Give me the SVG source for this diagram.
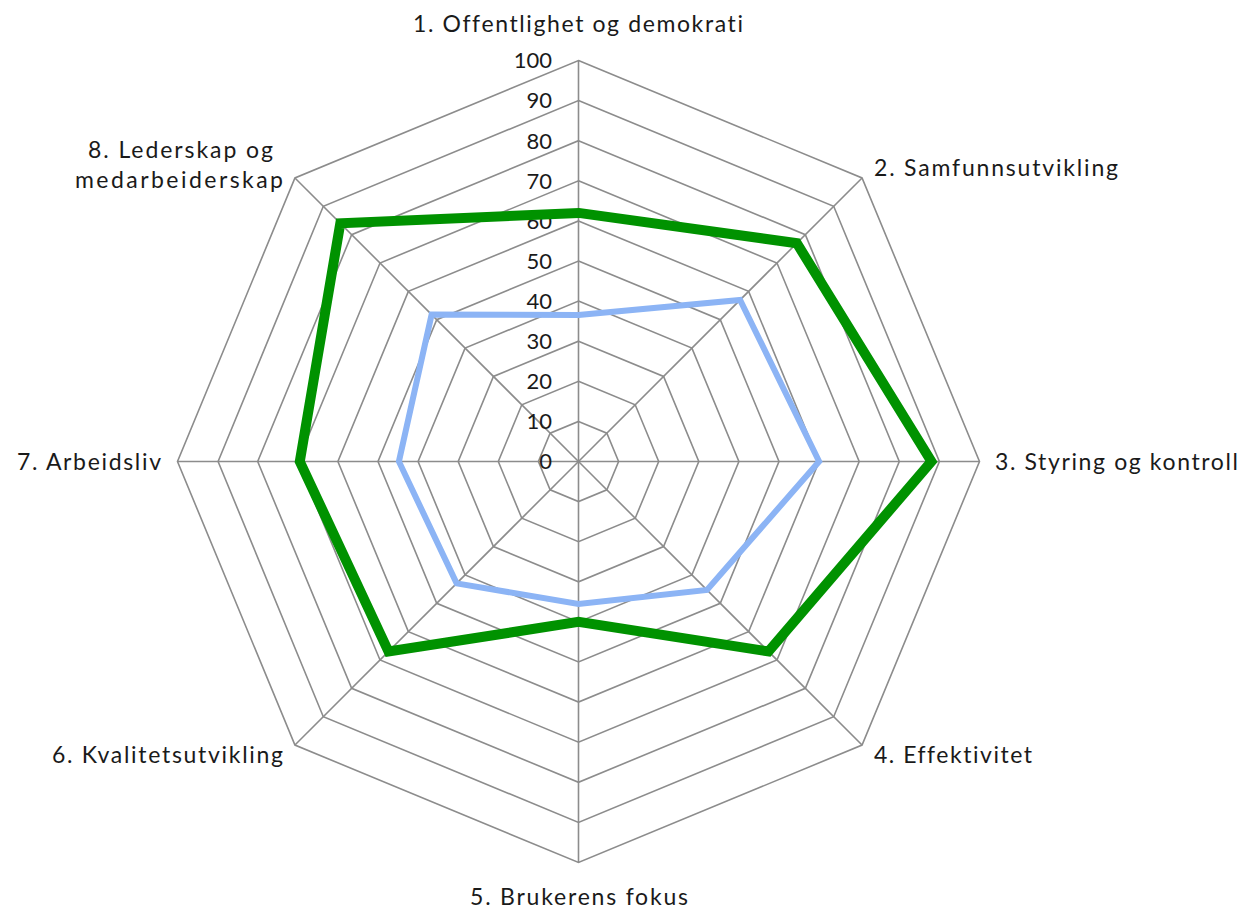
<svg xmlns="http://www.w3.org/2000/svg" width="1245" height="912" viewBox="0 0 1245 912">
<style>
.grid{fill:none;stroke:#8c8c8c;stroke-width:1.6}
.spoke{stroke:#8c8c8c;stroke-width:1.6}
.tick{font-family:Lato,"Liberation Sans",sans-serif;font-size:22px;fill:#1a1a1a;text-anchor:end}
.lab{font-family:Lato,"Liberation Sans",sans-serif;font-size:23px;fill:#1a1a1a;font-variant-ligatures:none;font-feature-settings:"liga" 0,"dlig" 0}
.green{fill:none;stroke:#009200;stroke-width:10;stroke-linejoin:miter}
.blue{fill:none;stroke:#8cb4f5;stroke-width:6;stroke-linejoin:miter}
</style>
<rect width="1245" height="912" fill="#ffffff"/>
<g id="grid">
<polygon class="grid" points="578.5,421.4 606.86,433.14 618.6,461.5 606.86,489.86 578.5,501.6 550.14,489.86 538.4,461.5 550.14,433.14"/>
<polygon class="grid" points="578.5,381.3 635.21,404.79 658.7,461.5 635.21,518.21 578.5,541.7 521.79,518.21 498.3,461.5 521.79,404.79"/>
<polygon class="grid" points="578.5,341.2 663.57,376.43 698.8,461.5 663.57,546.57 578.5,581.8 493.43,546.57 458.2,461.5 493.43,376.43"/>
<polygon class="grid" points="578.5,301.1 691.92,348.08 738.9,461.5 691.92,574.92 578.5,621.9 465.08,574.92 418.1,461.5 465.08,348.08"/>
<polygon class="grid" points="578.5,261 720.28,319.72 779,461.5 720.28,603.28 578.5,662 436.72,603.28 378,461.5 436.72,319.72"/>
<polygon class="grid" points="578.5,220.9 748.63,291.37 819.1,461.5 748.63,631.63 578.5,702.1 408.37,631.63 337.9,461.5 408.37,291.37"/>
<polygon class="grid" points="578.5,180.8 776.99,263.01 859.2,461.5 776.99,659.99 578.5,742.2 380.01,659.99 297.8,461.5 380.01,263.01"/>
<polygon class="grid" points="578.5,140.7 805.34,234.66 899.3,461.5 805.34,688.34 578.5,782.3 351.66,688.34 257.7,461.5 351.66,234.66"/>
<polygon class="grid" points="578.5,100.6 833.7,206.3 939.4,461.5 833.7,716.7 578.5,822.4 323.3,716.7 218.1,461.5 323.3,206.3"/>
<polygon class="grid" points="578.5,60.5 862.05,177.95 979.5,461.5 862.05,745.05 578.5,862.5 294.95,745.05 177.5,461.5 294.95,177.95"/>
<line class="spoke" x1="578.5" y1="461.5" x2="578.5" y2="60.5"/>
<line class="spoke" x1="578.5" y1="461.5" x2="862.05" y2="177.95"/>
<line class="spoke" x1="578.5" y1="461.5" x2="979.5" y2="461.5"/>
<line class="spoke" x1="578.5" y1="461.5" x2="862.05" y2="745.05"/>
<line class="spoke" x1="578.5" y1="461.5" x2="578.5" y2="862.5"/>
<line class="spoke" x1="578.5" y1="461.5" x2="294.95" y2="745.05"/>
<line class="spoke" x1="578.5" y1="461.5" x2="177.5" y2="461.5"/>
<line class="spoke" x1="578.5" y1="461.5" x2="294.95" y2="177.95"/>
</g>
<g id="ticks">
<text class="tick" x="552" y="469.3">0</text>
<text class="tick" x="552" y="429.2">10</text>
<text class="tick" x="552" y="389.1">20</text>
<text class="tick" x="552" y="349">30</text>
<text class="tick" x="552" y="308.9">40</text>
<text class="tick" x="552" y="268.8">50</text>
<text class="tick" x="552" y="228.7">60</text>
<text class="tick" x="552" y="188.6">70</text>
<text class="tick" x="552" y="148.5">80</text>
<text class="tick" x="552" y="108.4">90</text>
<text class="tick" x="552" y="68.3">100</text>
</g>
<g id="series-blue">
<polygon class="blue" points="578.5,315.1 740.1,299.9 819.1,461.5 707,590 578.5,603.9 456.6,583.4 398.9,461.5 431.6,314.6"/>
</g>
<g id="series-green">
<polygon class="green" points="578.5,212.9 796.8,243.2 931.4,461.5 768.5,651.5 578.5,621.9 388.5,651.5 299.8,461.5 340.3,223.3"/>
</g>
<g id="labels">
<g id="axis1"><text class="lab" x="413" y="31.7" textLength="330">1. Offentlighet og demokrati</text></g>
<g id="axis2"><text class="lab" x="874" y="176" textLength="244">2. Samfunnsutvikling</text></g>
<g id="axis3"><text class="lab" x="995" y="470" textLength="243">3. Styring og kontroll</text></g>
<g id="axis4"><text class="lab" x="874" y="763" textLength="158">4. Effektivitet</text></g>
<g id="axis5"><text class="lab" x="470" y="905" textLength="218">5. Brukerens fokus</text></g>
<g id="axis6"><text class="lab" x="52" y="763" textLength="231">6. Kvalitetsutvikling</text></g>
<g id="axis7"><text class="lab" x="17" y="470" textLength="144">7. Arbeidsliv</text></g>
<g id="axis8"><text class="lab" x="88" y="158.3" textLength="185">8. Lederskap og</text><text class="lab" x="75" y="188.3" textLength="208">medarbeiderskap</text></g>
</g>
</svg>
